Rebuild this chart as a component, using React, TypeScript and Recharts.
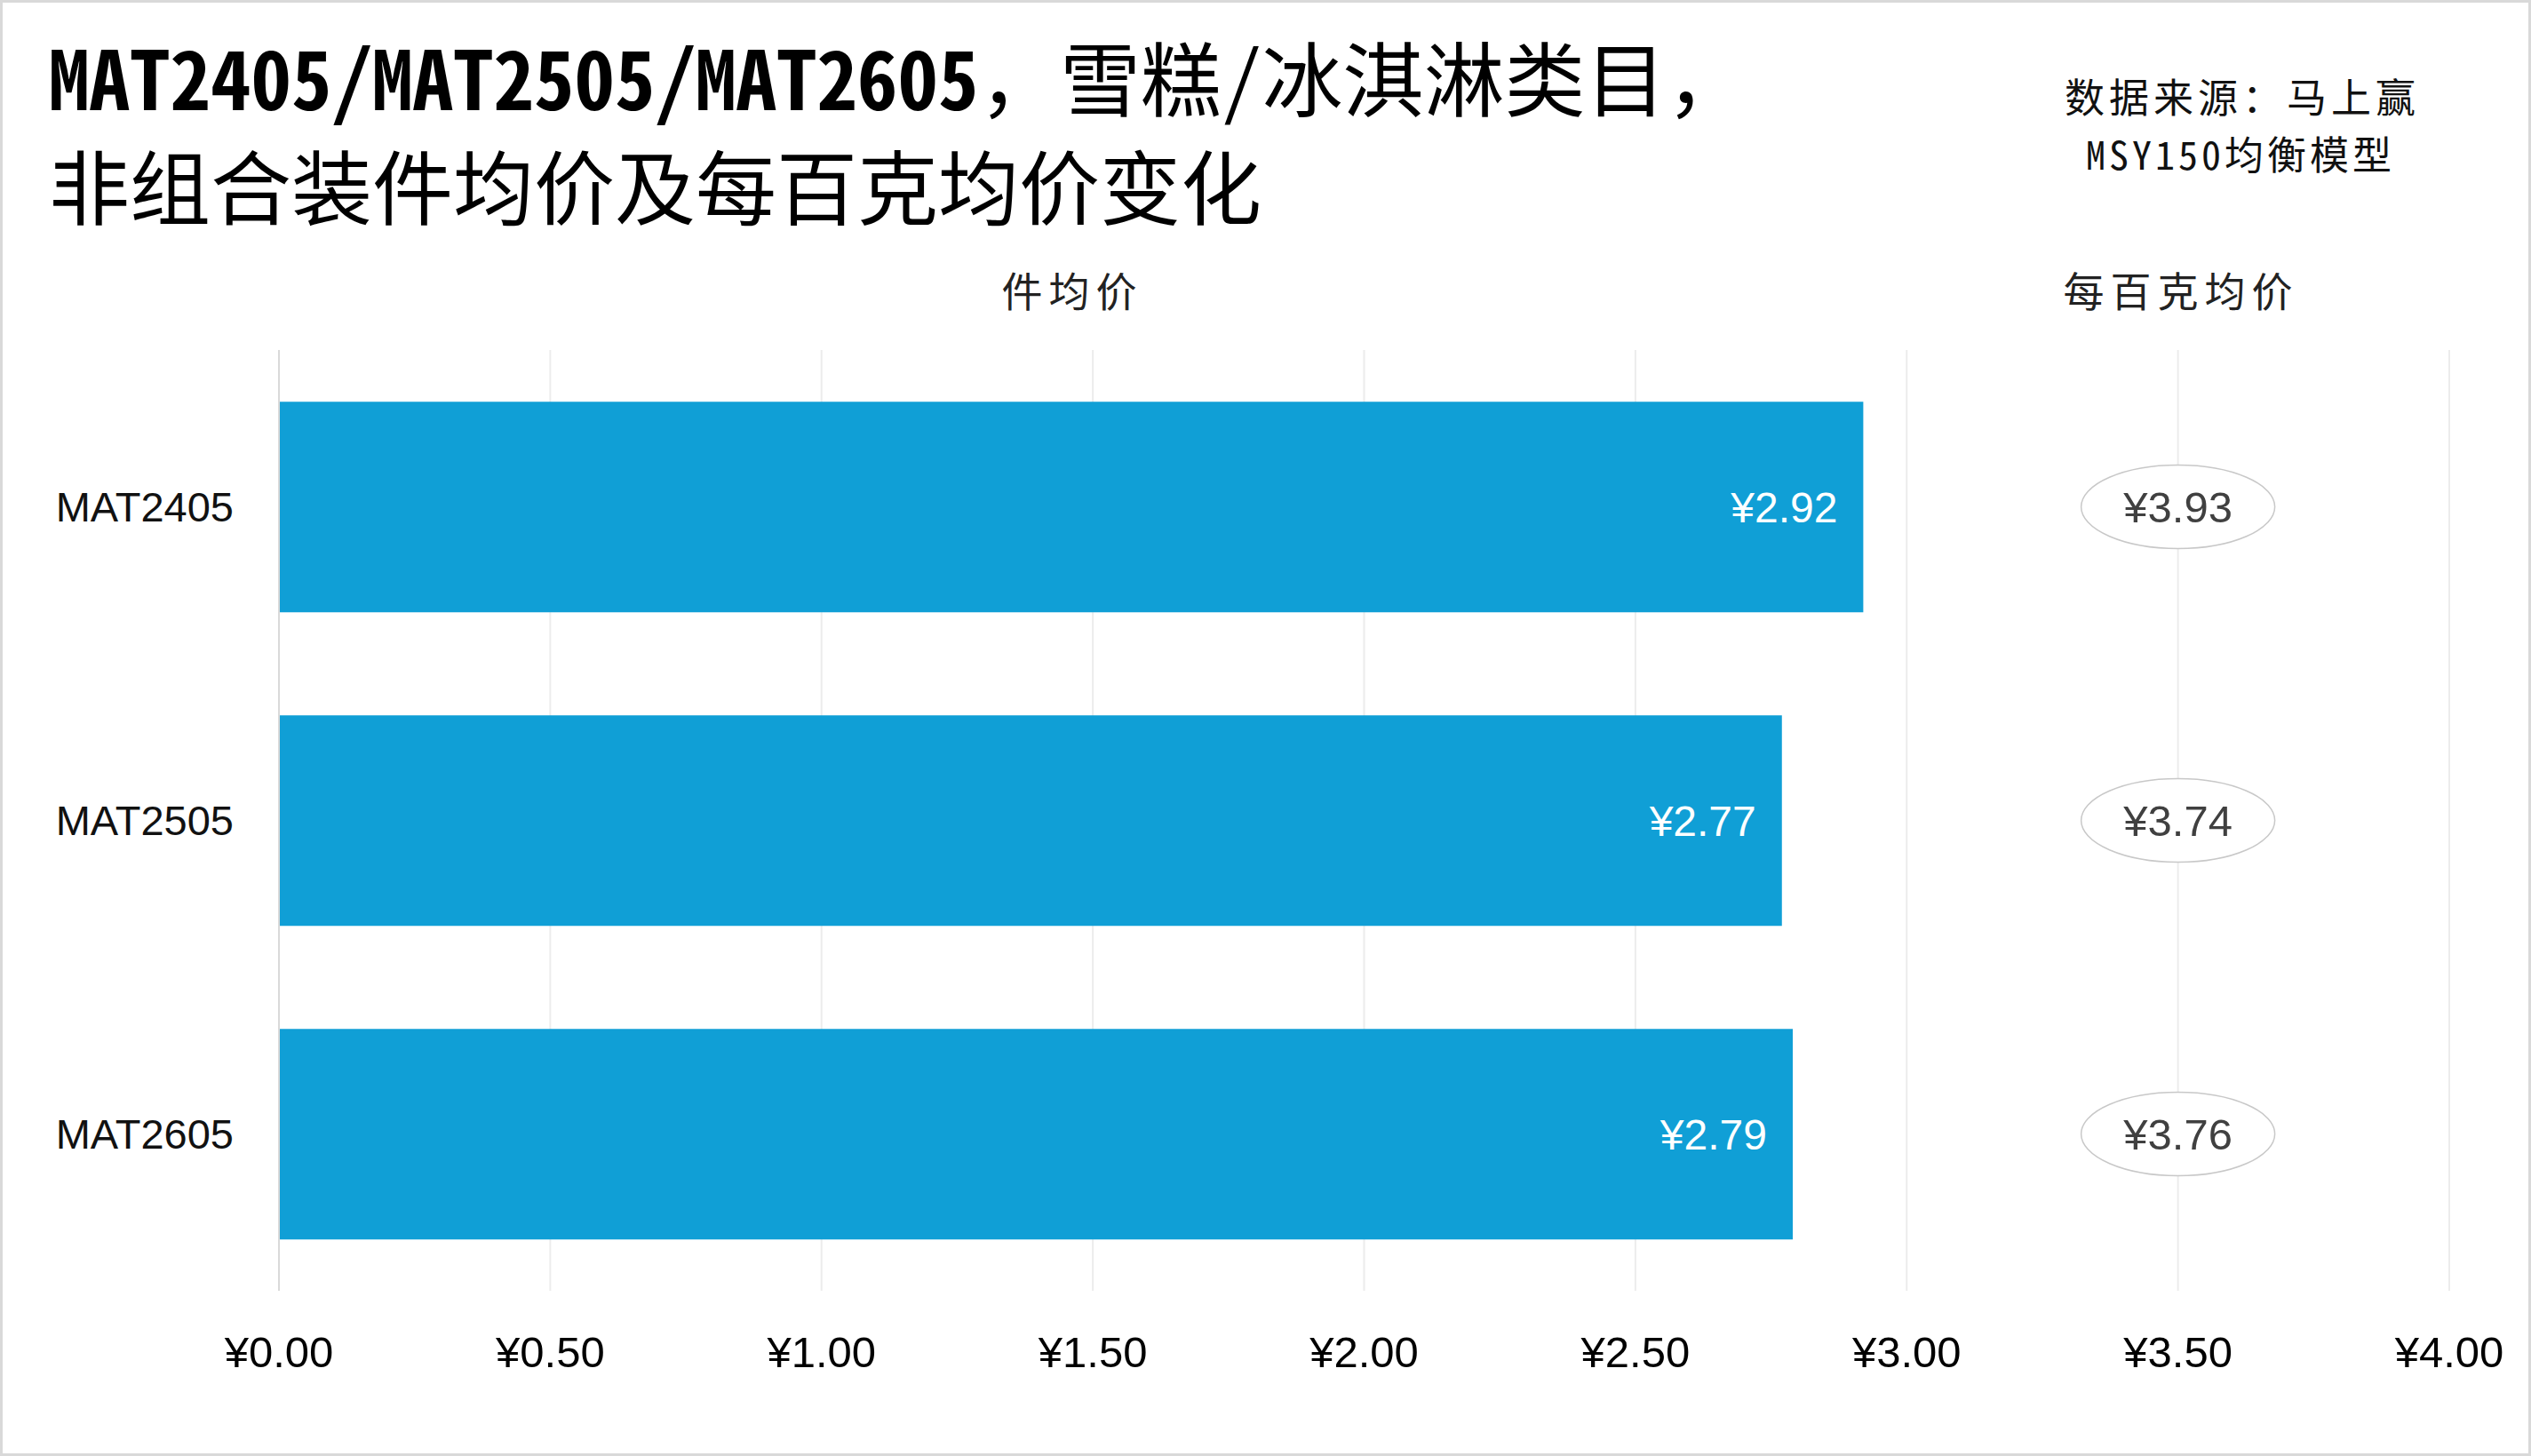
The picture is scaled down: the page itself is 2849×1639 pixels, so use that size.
import React from "react";
import {
  ComposedChart,
  Bar,
  Scatter,
  XAxis,
  YAxis,
  CartesianGrid,
  LabelList,
} from "recharts";

const periods = ["MAT2405", "MAT2505", "MAT2605"];
const unitPrice = [2.92, 2.77, 2.79];
const per100gPrice = [3.93, 3.74, 3.76];
const xTicks = [0, 0.5, 1, 1.5, 2, 2.5, 3, 3.5, 4];
// the per-100g column sits on the ¥3.50 grid line
const per100gColumnAt = 3.5;

const data = periods.map((p, i) => ({
  period: p,
  unit: unitPrice[i],
  per100g: per100gPrice[i],
}));

const yen = (v: number) => `¥${Number(v).toFixed(2)}`;

const LATIN = "'Liberation Sans', Arial, 'Noto Sans CJK SC', sans-serif";
const CJK = "'Noto Sans Mono CJK SC', 'Noto Sans CJK SC', sans-serif";

const W = 2849;
const H = 1639;

const PillLabel = (props: any) => {
  const { cx, cy, payload } = props;
  if (cx == null || cy == null) return null;
  return (
    <g>
      <ellipse cx={cx} cy={cy} rx={109} ry={47} fill="#fff" stroke="#c8c8c8" strokeWidth={1.5} />
      <text
        x={cx}
        y={cy}
        textAnchor="middle"
        dominantBaseline="central"
        fontFamily={LATIN}
        fontSize={49}
        fill="#404040"
      >
        {yen(payload.per100g)}
      </text>
    </g>
  );
};

const App = () => {
  return (
    <div style={{ position: "absolute", left: 0, top: 0, width: W, height: H, background: "#fff" }}>
      <div style={{ position: "absolute", left: 0, top: 0 }}>
        <ComposedChart
          width={W}
          height={H}
          layout="vertical"
          data={data}
          barCategoryGap="16.5%"
          margin={{ top: 394, right: 92, bottom: 86, left: 64 }}
        >
          <CartesianGrid horizontal={false} stroke="#ececec" strokeWidth={2} />
          <XAxis
            type="number"
            domain={[0, 4]}
            ticks={xTicks}
            height={100}
            axisLine={false}
            tickLine={false}
            tickSize={0}
            tickMargin={51}
            tickFormatter={yen}
            tick={{ fontSize: 49, fill: "#000", fontFamily: LATIN }}
          />
          <YAxis
            type="category"
            dataKey="period"
            width={250}
            axisLine={{ stroke: "#d9d9d9", strokeWidth: 2 }}
            tickLine={false}
            tickSize={0}
            tickMargin={51}
            tick={{ fontSize: 47, fill: "#111", fontFamily: LATIN }}
          />
          <Bar dataKey="unit" fill="#109fd6" isAnimationActive={false}>
            <LabelList
              dataKey="unit"
              position="insideRight"
              offset={29}
              fill="#fff"
              fontSize={48}
              fontFamily={LATIN}
              formatter={yen}
            />
          </Bar>
          <Scatter
            dataKey={() => per100gColumnAt}
            shape={PillLabel}
            isAnimationActive={false}
          />
        </ComposedChart>
      </div>

      <svg
        width={W}
        height={H}
        style={{ position: "absolute", left: 0, top: 0, pointerEvents: "none" }}
      >
        <text x={55} y={124} fontSize={91} fontWeight={700} fontFamily={CJK} fill="#000">
          MAT2405/MAT2505/MAT2605
        </text>
        <text x={1102} y={124} fontSize={91} fontFamily={CJK} fill="#000">
          ，雪糕/冰淇淋类目，
        </text>
        <text x={55} y={246} fontSize={91} fontFamily={CJK} fill="#000">
          非组合装件均价及每百克均价变化
        </text>

        <text x={2524} y={127} fontSize={45} letterSpacing={5} textAnchor="middle" fontFamily={CJK} fill="#111">
          数据来源：马上赢
        </text>
        <text x={2522} y={191} fontSize={44} letterSpacing={4} textAnchor="middle" fontFamily={CJK} fill="#111">
          MSY150均衡模型
        </text>

        <text x={1207} y={345} fontSize={46} letterSpacing={7} textAnchor="middle" fontFamily={CJK} fill="#222">
          件均价
        </text>
        <text x={2455} y={345} fontSize={46} letterSpacing={7} textAnchor="middle" fontFamily={CJK} fill="#222">
          每百克均价
        </text>
      </svg>

      <div
        style={{
          position: "absolute",
          left: 0,
          top: 0,
          width: W,
          height: H,
          boxSizing: "border-box",
          border: "3px solid #d9d9d9",
          pointerEvents: "none",
        }}
      />
    </div>
  );
};

export default App;
